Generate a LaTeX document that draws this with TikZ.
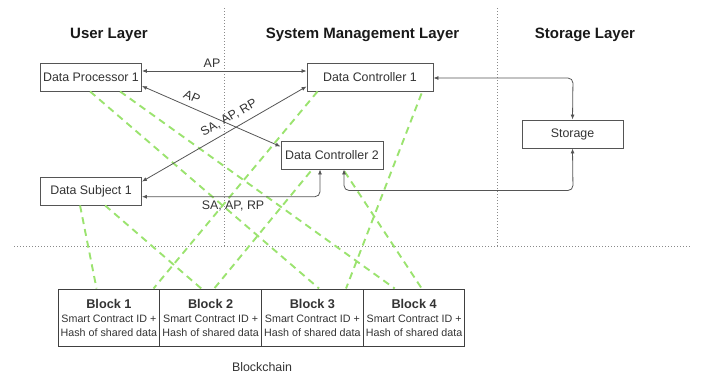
\documentclass[tikz,border=0pt]{standalone}
\usepackage{fontspec}
\setmainfont{Liberation Sans}
\usetikzlibrary{arrows.meta}
\definecolor{txt}{HTML}{333333}
\definecolor{ln}{HTML}{555555}
\definecolor{dots}{HTML}{8A8A8A}
\definecolor{grn}{HTML}{9BE36F}
\tikzset{
  box/.style={draw=ln, line width=0.9pt, fill=white, inner sep=0pt, text=txt,
    font=\fontsize{12.4}{14}\selectfont},
  blockbox/.style={draw=black!75, line width=1pt, inner sep=0pt, minimum width=101.75pt,
    minimum height=57pt, align=center, text=txt, font=\fontsize{10.7}{14}\selectfont},
  title/.style={font=\fontsize{15}{17}\selectfont\bfseries, text=black!90},
  lbl/.style={font=\fontsize{12.4}{14}\selectfont, text=txt, inner sep=1pt},
  conn/.style={draw=ln, line width=0.8pt, {Latex[length=5pt,width=4pt]}-{Latex[length=5pt,width=4pt]}},
  sep/.style={draw=dots, line width=0.8pt, dash pattern=on 1.4pt off 1.6pt},
  chain/.style={draw=grn, line width=1.9pt, dash pattern=on 7pt off 5pt},
}
\begin{document}
\begin{tikzpicture}[x=1pt,y=-1pt]
\useasboundingbox (0,0) rectangle (701,375);
% separators
\draw[sep] (224,8) -- (224,246);
\draw[sep] (497,8) -- (497,246);
\draw[sep] (14,246) -- (690,246);
% titles
\node[title] (t1) at (109,35) {User Layer};
\node[title] (t2) at (362.5,35) {System Management Layer};
\node[title] (t3) at (585,35) {Storage Layer};
% nodes
\node[box, minimum width=101pt, minimum height=28pt] (dp1) at (91,77) {Data Processor 1};
\node[box, minimum width=101pt, minimum height=28pt] (ds1) at (91,191) {Data Subject 1};
\node[box, minimum width=126pt, minimum height=28pt] (dc1) at (370,77) {Data Controller 1};
\node[box, minimum width=102pt, minimum height=28pt] (dc2) at (332,155) {Data Controller 2};
\node[box, minimum width=101pt, minimum height=28pt] (st) at (572.5,134) {Storage};
% blocks
\node[blockbox] (b1) at (108.9,317.5) {{\fontsize{12.7}{14}\selectfont\bfseries Block 1}\\Smart Contract ID +\\Hash of shared data};
\node[blockbox] (b2) at (210.6,317.5) {{\fontsize{12.7}{14}\selectfont\bfseries Block 2}\\Smart Contract ID +\\Hash of shared data};
\node[blockbox] (b3) at (312.4,317.5) {{\fontsize{12.7}{14}\selectfont\bfseries Block 3}\\Smart Contract ID +\\Hash of shared data};
\node[blockbox] (b4) at (414.1,317.5) {{\fontsize{12.7}{14}\selectfont\bfseries Block 4}\\Smart Contract ID +\\Hash of shared data};
\node[lbl] (bc) at (262,367) {Blockchain};
% green dashed links
\draw[chain] ([xshift=40pt]ds1.south west) -- ([xshift=39pt]b1.north west);
\draw[chain] ([xshift=65pt]ds1.south west) -- ([xshift=42pt]b2.north west);
\draw[chain] ([xshift=11pt]dc1.south west) -- ([xshift=96pt]b1.north west);
\draw[chain] ([xshift=50pt]dp1.south west) -- ([xshift=58pt]b3.north west);
\draw[chain] ([xshift=80pt]dp1.south west) -- ([xshift=32pt]b4.north west);
\draw[chain] ([xshift=30pt,yshift=-2pt]dc2.south west) -- ([xshift=55pt]b2.north west);
\draw[chain] ([xshift=64pt,yshift=-2pt]dc2.south west) -- ([xshift=59pt]b4.north west);
\draw[chain] ([xshift=115pt,yshift=-2pt]dc1.south west) -- ([xshift=85pt]b3.north west);
% connectors
\draw[conn] ([yshift=6pt]dp1.east) -- ([yshift=6pt]dc1.west);
\draw[conn] ([yshift=-9pt]dp1.east) -- ([yshift=-6pt]dc2.north west);
\draw[conn] ([yshift=-5pt]ds1.north east) -- ([yshift=5pt]dc1.south west);
\draw[conn, rounded corners=5pt] ([yshift=-5.7pt]ds1.east) -| ([xshift=-12pt]dc2.south);
\coordinate (k1) at (573,78);
\coordinate (k2) at (573,190.5);
\draw[conn, rounded corners=5pt] ([yshift=-1pt]dc1.east) -- (k1) -- (st.north);
\draw[conn, rounded corners=5pt] ([xshift=12pt]dc2.south) |- (k2) -- (st.south);
% labels
\node[lbl] (l1) at (212,63) {AP};
\node[lbl, rotate=-24] (l2) at (192,97) {AP};
\node[lbl, rotate=30] (l3) at (229,118) {SA, AP, RP};
\node[lbl] (l4) at (233,206) {SA, AP, RP};
\end{tikzpicture}
\end{document}
